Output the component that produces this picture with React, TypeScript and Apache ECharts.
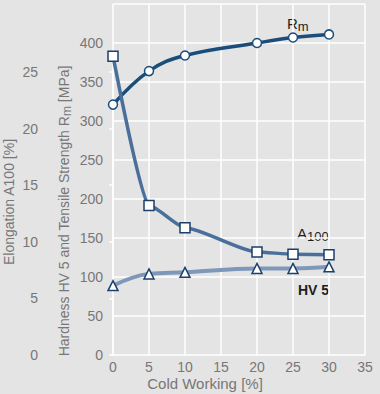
import React, { useEffect, useRef } from "react";
import * as echarts from "echarts";

const coldWorking = [0, 5, 10, 20, 25, 30];
const rmValues = [321, 364, 384, 400, 407, 411];
const a100Values = [26.4, 13.2, 11.25, 9.1, 8.9, 8.85];
const hv5Values = [89, 104, 106, 111, 111, 113];
const leftTicks = { min: 0, max: 450, interval: 50, lastShown: 400 };
const elongTicks = { min: 0, max: 25, interval: 5 };
const xTicks = { min: 0, max: 35, interval: 5 };

const BG = "#e4e4e4";
const TXT = "#777777";
const FONT = "Liberation Sans";

export default function App() {
  const ref = useRef<HTMLDivElement>(null);
  useEffect(() => {
    if (!ref.current) return;
    const chart = echarts.init(ref.current, undefined, { renderer: "svg" });
    const pts = (vals: number[]) => coldWorking.map((x, i) => [x, vals[i]]);
    chart.setOption({
      animation: false,
      backgroundColor: BG,
      textStyle: { fontFamily: FONT },
      grid: [
        { left: 113, right: 15, top: 4, bottom: 39 },
        { left: 113, right: 15, top: 72, bottom: 39 },
      ],
      xAxis: [
        {
          gridIndex: 0,
          type: "value",
          min: xTicks.min,
          max: xTicks.max,
          interval: xTicks.interval,
          axisLine: { show: false },
          axisTick: { show: false },
          splitLine: { show: true, lineStyle: { color: "#ffffff", width: 1.5 } },
          axisLabel: { color: TXT, fontSize: 14, margin: 5, fontFamily: FONT },
        },
        {
          gridIndex: 1,
          type: "value",
          min: xTicks.min,
          max: xTicks.max,
          show: false,
        },
      ],
      yAxis: [
        {
          gridIndex: 0,
          type: "value",
          min: leftTicks.min,
          max: leftTicks.max,
          interval: leftTicks.interval,
          axisLine: { show: false },
          axisTick: { show: false },
          splitLine: { show: true, lineStyle: { color: "#ffffff", width: 1.5 } },
          axisLabel: {
            color: TXT,
            fontSize: 14,
            margin: 10,
            fontFamily: FONT,
            formatter: (v: number) => (v > leftTicks.lastShown ? "" : String(v)),
          },
        },
        {
          gridIndex: 1,
          type: "value",
          position: "left",
          offset: 61,
          min: elongTicks.min,
          max: elongTicks.max,
          interval: elongTicks.interval,
          axisLine: { show: true, lineStyle: { color: "#ffffff", width: 1.5 } },
          axisTick: { show: true, length: 4, lineStyle: { color: "#ffffff", width: 1.5 } },
          splitLine: { show: false },
          axisLabel: { color: TXT, fontSize: 14, margin: 14, fontFamily: FONT },
        },
      ],
      series: [
        {
          name: "HV 5",
          type: "line",
          xAxisIndex: 0,
          yAxisIndex: 0,
          data: pts(hv5Values),
          smooth: 0.4,
          lineStyle: { color: "#7f98b9", width: 4 },
          symbol: "triangle",
          symbolSize: 10,
          itemStyle: { color: "#ffffff", borderColor: "#1d3f6b", borderWidth: 1.5 },
          z: 2,
        },
        {
          name: "Rm",
          type: "line",
          xAxisIndex: 0,
          yAxisIndex: 0,
          data: pts(rmValues),
          smooth: 0.4,
          lineStyle: { color: "#1b4d7b", width: 3.5 },
          symbol: "circle",
          symbolSize: 9,
          itemStyle: { color: "#ffffff", borderColor: "#1b4d7b", borderWidth: 1.5 },
          z: 3,
        },
        {
          name: "A100",
          type: "line",
          xAxisIndex: 1,
          yAxisIndex: 1,
          data: pts(a100Values),
          smooth: 0.2,
          smoothMonotone: "x",
          clip: false,
          lineStyle: { color: "#4a6f9a", width: 3.5 },
          symbol: "rect",
          symbolSize: 10,
          itemStyle: { color: "#ffffff", borderColor: "#1d3f6b", borderWidth: 1.5 },
          z: 4,
        },
      ],
      graphic: [
        {
          type: "text",
          x: 205,
          y: 383,
          style: {
            text: "Cold Working [%]",
            align: "center",
            verticalAlign: "middle",
            fill: TXT,
            fontSize: 15,
            fontFamily: FONT,
          },
        },
        {
          type: "text",
          x: 9,
          y: 202,
          rotation: Math.PI / 2,
          style: {
            text: "Elongation A100 [%]",
            align: "center",
            verticalAlign: "middle",
            fill: TXT,
            fontSize: 14,
            fontFamily: FONT,
          },
        },
        {
          type: "text",
          x: 64,
          y: 211,
          rotation: Math.PI / 2,
          style: {
            text: "{a|Hardness HV 5 and Tensile Strength R}{s|m}{a| [MPa]}",
            align: "center",
            verticalAlign: "middle",
            fill: TXT,
            fontFamily: FONT,
            rich: {
              a: { fontSize: 14, fontFamily: FONT, fill: TXT, lineHeight: 16 },
              s: { fontSize: 12, fontFamily: FONT, fill: TXT, lineHeight: 12, padding: [5, 0, 0, 0] },
            },
          },
        },
        {
          type: "text",
          x: 287,
          y: 23,
          style: {
            text: "{a|R}{s|m}",
            align: "left",
            verticalAlign: "middle",
            fontFamily: FONT,
            rich: {
              a: { fontSize: 15, fontFamily: FONT, fill: "#1e1e1e", lineHeight: 16 },
              s: { fontSize: 13, fontFamily: FONT, fill: "#1e1e1e", lineHeight: 13, padding: [6, 0, 0, 0] },
            },
          },
        },
        {
          type: "text",
          x: 297,
          y: 233,
          style: {
            text: "{a|A}{s|100}",
            align: "left",
            verticalAlign: "middle",
            fontFamily: FONT,
            rich: {
              a: { fontSize: 15, fontFamily: FONT, fill: "#1e1e1e", lineHeight: 16 },
              s: { fontSize: 13, fontFamily: FONT, fill: "#1e1e1e", lineHeight: 13, padding: [6, 0, 0, 0] },
            },
          },
        },
        {
          type: "text",
          x: 298,
          y: 290,
          style: {
            text: "HV 5",
            align: "left",
            verticalAlign: "middle",
            fill: "#1e1e1e",
            fontSize: 14,
            fontWeight: "bold",
            fontFamily: FONT,
          },
        },
      ],
    });
    return () => chart.dispose();
  }, []);
  return (
    <div
      ref={ref}
      style={{ position: "fixed", left: 0, top: 0, width: 380, height: 394 }}
    />
  );
}
